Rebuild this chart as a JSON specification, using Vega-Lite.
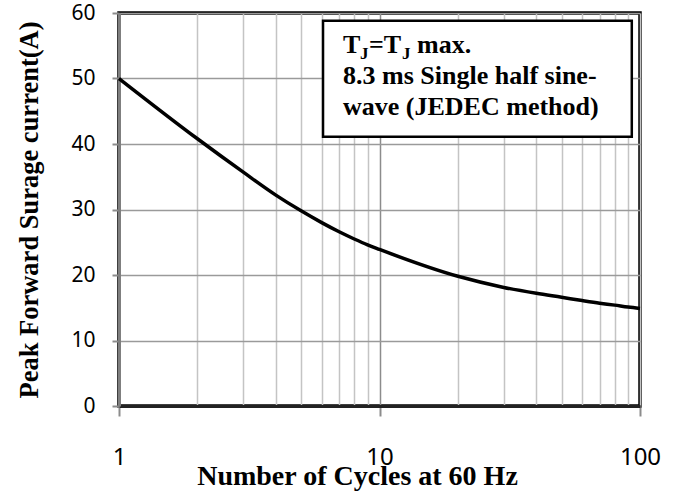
{
  "$schema": "https://vega.github.io/schema/vega-lite/v6.json",
  "width": 521,
  "height": 393,
  "autosize": "none",
  "padding": {"left": 119, "top": 13, "right": 38, "bottom": 88},
  "background": "white",
  "config": {
    "view": {"stroke": "#000000", "strokeWidth": 3.5},
    "axis": {"labelColor": "#000000", "titleColor": "#000000"},
    "text": {"font": "Liberation Serif", "fontWeight": "bold", "align": "left", "baseline": "alphabetic", "color": "#000000", "fontSize": 26}
  },
  "layer": [
    {
      "data": {"values": [
        {"cycles": 1, "current": 50},
        {"cycles": 2, "current": 40.8},
        {"cycles": 3, "current": 35.7},
        {"cycles": 4, "current": 32.2},
        {"cycles": 5, "current": 29.8},
        {"cycles": 6, "current": 28.0},
        {"cycles": 7, "current": 26.6},
        {"cycles": 8, "current": 25.5},
        {"cycles": 9, "current": 24.6},
        {"cycles": 10, "current": 23.9},
        {"cycles": 20, "current": 19.8},
        {"cycles": 30, "current": 18.1},
        {"cycles": 40, "current": 17.2},
        {"cycles": 50, "current": 16.6},
        {"cycles": 60, "current": 16.1},
        {"cycles": 70, "current": 15.7},
        {"cycles": 80, "current": 15.4},
        {"cycles": 90, "current": 15.1},
        {"cycles": 100, "current": 14.9}
      ]},
      "mark": {"type": "line", "color": "#000000", "strokeWidth": 3.5, "interpolate": "monotone"},
      "encoding": {
        "x": {
          "field": "cycles", "type": "quantitative",
          "scale": {"type": "log", "domain": [1, 100], "nice": false},
          "axis": {
            "values": [1, 2, 3, 4, 5, 6, 7, 8, 9, 10, 20, 30, 40, 50, 60, 70, 80, 90, 100],
            "labelExpr": "datum.value == 1 || datum.value == 10 || datum.value == 100 ? format(datum.value, 'd') : ''",
            "grid": true,
            "gridColor": {"condition": {"test": "datum.value == 10", "value": "#8c8c8c"}, "value": "#c4c4c4"},
            "gridWidth": 1.5,
            "tickOpacity": {"condition": {"test": "datum.value == 1 || datum.value == 10 || datum.value == 100", "value": 1}, "value": 0},
            "tickColor": "#8c8c8c", "tickSize": 10, "tickWidth": 2,
            "domainColor": "#222222", "domainWidth": 3,
            "labelFont": "Noto Sans", "labelFontSize": 24, "labelPadding": 48,
            "labelBaseline": "alphabetic",
            "labelOverlap": false, "labelFlush": false,
            "title": "Number of Cycles at 60 Hz",
            "titleFont": "Liberation Serif", "titleFontSize": 28, "titleFontWeight": "bold",
            "titleX": 238, "titleY": 78, "titleAlign": "center", "titleBaseline": "alphabetic"
          }
        },
        "y": {
          "field": "current", "type": "quantitative",
          "scale": {"domain": [0, 60], "nice": false},
          "axis": {
            "values": [0, 10, 20, 30, 40, 50, 60],
            "grid": true, "gridColor": "#9a9a9a", "gridWidth": 1.5,
            "tickColor": "#8c8c8c", "tickSize": 7, "tickWidth": 2,
            "domainColor": "#7f7f7f", "domainWidth": 3,
            "labelFont": "Noto Sans", "labelFontSize": 21, "labelPadding": 17,
            "title": "Peak Forward Surage current(A)",
            "titleFont": "Liberation Serif", "titleFontSize": 26.5, "titleFontWeight": "bold",
            "titleX": -82, "titleY": 196.5, "titleAngle": -90, "titleAlign": "center", "titleBaseline": "alphabetic"
          }
        }
      }
    },
    {
      "data": {"values": [{}]},
      "mark": {"type": "rect", "fill": "#ffffff", "stroke": "#000000", "strokeWidth": 2.5},
      "encoding": {
        "x": {"datum": 6.07, "type": "quantitative"},
        "x2": {"datum": 93},
        "y": {"datum": 58.8, "type": "quantitative"},
        "y2": {"datum": 41.1}
      }
    },
    {
      "data": {"values": [{}]},
      "encoding": {
        "x": {"datum": 7.243, "type": "quantitative"},
        "y": {"datum": 53.9, "type": "quantitative"}
      },
      "layer": [
        {"mark": {"type": "text", "dx": 0}, "encoding": {"text": {"value": "T"}}},
        {"mark": {"type": "text", "dx": 17, "dy": 6, "fontSize": 17}, "encoding": {"text": {"value": "J"}}},
        {"mark": {"type": "text", "dx": 26}, "encoding": {"text": {"value": "=T"}}},
        {"mark": {"type": "text", "dx": 59, "dy": 6, "fontSize": 17}, "encoding": {"text": {"value": "J"}}},
        {"mark": {"type": "text", "dx": 74}, "encoding": {"text": {"value": "max."}}}
      ]
    },
    {
      "data": {"values": [{"line": "8.3 ms Single half sine-", "y": 49.16}, {"line": "wave (JEDEC method)", "y": 44.43}]},
      "mark": {"type": "text"},
      "encoding": {
        "x": {"datum": 7.243, "type": "quantitative"},
        "y": {"field": "y", "type": "quantitative"},
        "text": {"field": "line"}
      }
    }
  ]
}
